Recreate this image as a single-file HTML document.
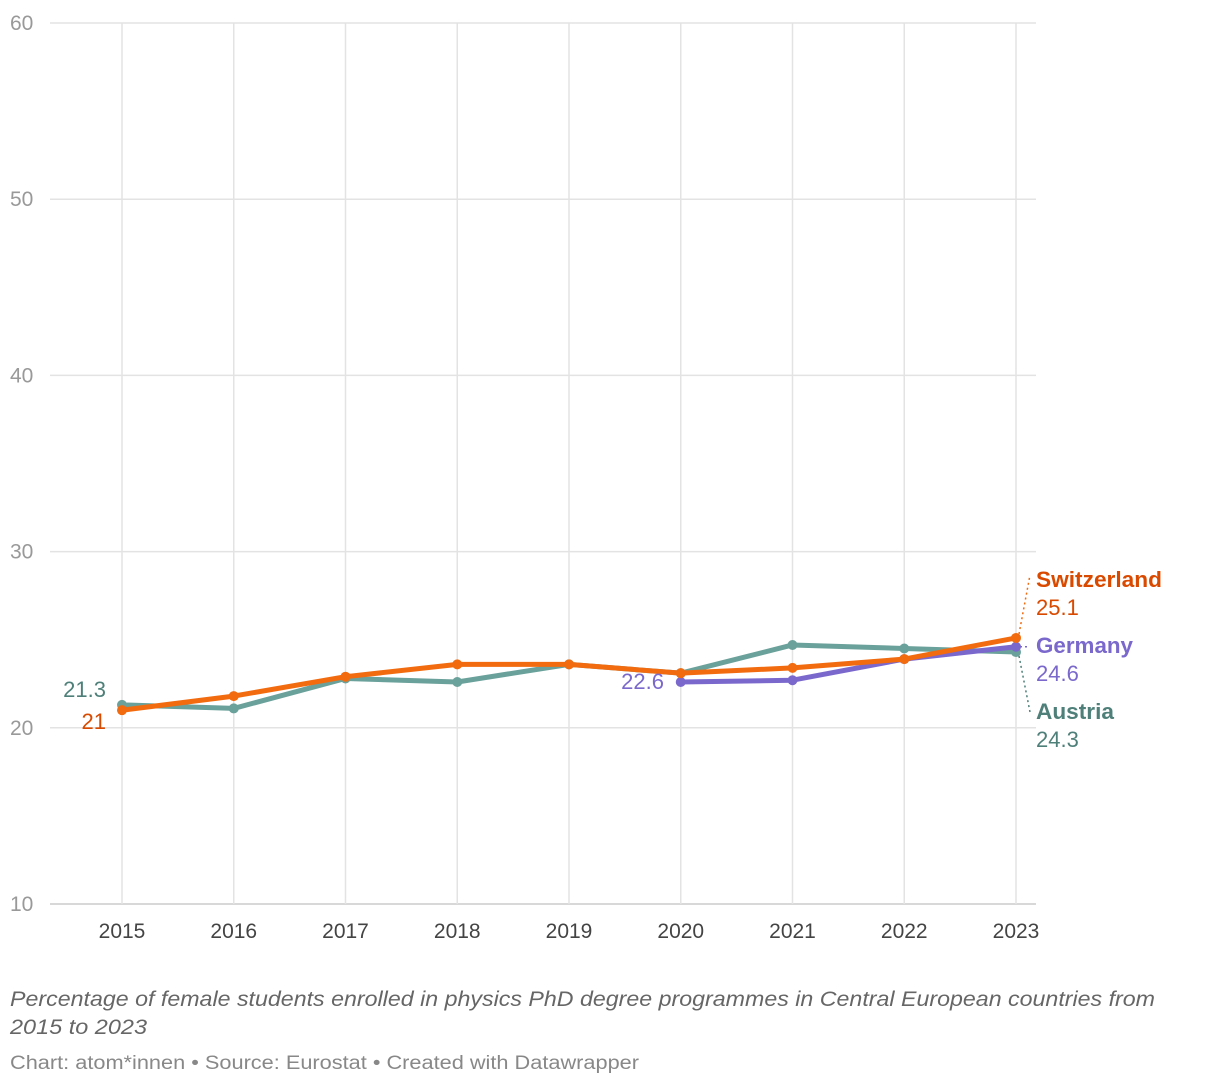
<!DOCTYPE html>
<html><head><meta charset="utf-8">
<style>
body{margin:0;background:#fff;font-family:"Liberation Sans",sans-serif;}
svg text{font-family:"Liberation Sans",sans-serif;}
</style></head>
<body>
<svg id="chart" width="1220" height="1086" xmlns="http://www.w3.org/2000/svg">
<g id="grid"></g><g id="series"></g><g id="labels"></g>
<text x="10" y="1006" font-size="21" font-style="italic" fill="#666" textLength="1145" lengthAdjust="spacingAndGlyphs">Percentage of female students enrolled in physics PhD degree programmes in Central European countries from</text>
<text x="10" y="1034" font-size="21" font-style="italic" fill="#666" textLength="137" lengthAdjust="spacingAndGlyphs">2015 to 2023</text>
<text x="10" y="1069" font-size="19" fill="#888" textLength="629" lengthAdjust="spacingAndGlyphs">Chart: atom*innen • Source: Eurostat • Created with Datawrapper</text>
</svg>
<script>
const years=[2015,2016,2017,2018,2019,2020,2021,2022,2023];
const yTicks=[10,20,30,40,50,60];
const austria=[21.3,21.1,22.8,22.6,23.6,23.1,24.7,24.5,24.3];
const switzerland=[21.0,21.8,22.9,23.6,23.6,23.1,23.4,23.9,25.1];
const germany=[null,null,null,null,null,22.6,22.7,23.9,24.6];
const NS="http://www.w3.org/2000/svg";
const X=i=>122+i*(1016-122)/8;
const Y=v=>904-(v-10)*(904-23)/50;
function mk(t,a,p){const e=document.createElementNS(NS,t);for(const k in a)e.setAttribute(k,a[k]);p.appendChild(e);return e;}
const g=document.getElementById('grid');
yTicks.forEach(v=>{
 const l=mk('line',{x1:50,x2:1036,y1:Y(v),y2:Y(v),stroke:v===10?'#ccc':'#e3e3e3','stroke-width':1.5},g);
 
 
 const t=mk('text',{x:10,y:Y(v)+7,'font-size':21,fill:'#999'},g);t.textContent=v;
 
 
});
years.forEach((yr,i)=>{
 const l=mk('line',{x1:X(i),x2:X(i),y1:23,y2:904,stroke:'#e3e3e3','stroke-width':1.5},g);
 
 
 const t=mk('text',{x:X(i),y:938,'font-size':21,fill:'#444','text-anchor':'middle'},g);t.textContent=yr;
 
 
});
const s=document.getElementById('series');
function draw(data,color,name){
 const pts=[];data.forEach((v,i)=>{if(v!=null)pts.push([X(i),Y(v)]);});
 const p=mk('polyline',{points:pts.map(p=>p.join(',')).join(' '),fill:'none',stroke:color,'stroke-width':5,'stroke-linejoin':'round'},s);
 
 
 pts.forEach(pt=>{const c=mk('circle',{cx:pt[0],cy:pt[1],r:5,fill:color},s);
  
  });
}
draw(austria,'#6aa19a','austria');
draw(germany,'#7b68cc','germany');
draw(switzerland,'#f26b0f','switzerland');
const L=document.getElementById('labels');
function txt(x,y,str,color,bold,anchor,name,len){const a={x:x,y:y,'font-size':22,fill:color,'font-weight':bold?'bold':'normal','text-anchor':anchor||'start'};
 if(len){a.textLength=len;a.lengthAdjust='spacingAndGlyphs';}
 const t=mk('text',a,L);t.textContent=str;
 
 }
txt(106,697,austria[0],'#4e8079',false,'end','austria-start-label');
txt(106,729,switzerland[0],'#d94a00',false,'end','switzerland-start-label');
txt(664,689,germany[5],'#7b68cc',false,'end','germany-start-label');
const lx=X(8);
mk('path',{d:`M${lx+3},${Y(switzerland[8])-4} L1030,575`,stroke:'#f26b0f','stroke-dasharray':'2,3',fill:'none','stroke-width':1.5},L);
mk('path',{d:`M${lx+4},${Y(germany[8])} L1030,${Y(germany[8])}`,stroke:'#7b68cc','stroke-dasharray':'2,3',fill:'none','stroke-width':1.5},L);
mk('path',{d:`M${lx+3},${Y(austria[8])+4} L1030,712`,stroke:'#4e8079','stroke-dasharray':'2,3',fill:'none','stroke-width':1.5},L);
txt(1036,587,'Switzerland','#d94a00',true,'start','switzerland-label',126);
txt(1036,615,switzerland[8],'#d94a00',false,'start','switzerland-end-value');
txt(1036,653,'Germany','#7b68cc',true,'start','germany-label',97);
txt(1036,681,germany[8],'#7b68cc',false,'start','germany-end-value');
txt(1036,719,'Austria','#4e8079',true,'start','austria-label',78);
txt(1036,747,austria[8],'#4e8079',false,'start','austria-end-value');
</script>
</body></html>
